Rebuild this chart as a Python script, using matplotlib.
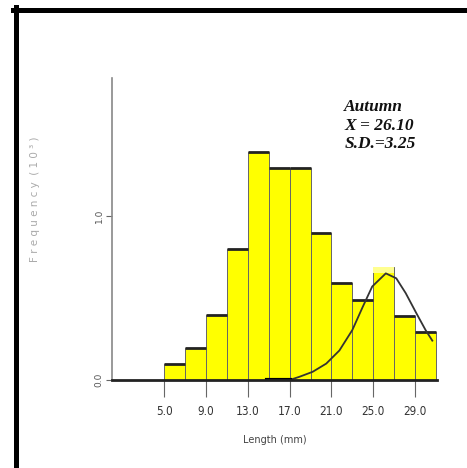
import matplotlib.pyplot as plt
import matplotlib.lines as mlines

# histogram data (length classes, frequency in 10^3)
bin_left = [5, 7, 9, 11, 13, 15, 17, 19, 21, 23, 25, 27, 29]
freq = [0.096, 0.193, 0.396, 0.797, 1.392, 1.29, 1.29, 0.894, 0.593, 0.488, 0.691, 0.39, 0.295]
bin_w = 2

# fitted curve
curve_x = [17.0, 17.95, 19.2, 20.5, 21.76, 23.0, 24.0, 24.9, 26.2, 27.2, 28.1, 29.1, 30.0, 30.65]
curve_y = [0.0, 0.02, 0.05, 0.10, 0.18, 0.305, 0.447, 0.57, 0.65, 0.62, 0.53, 0.41, 0.305, 0.24]
flat_x = [14.8, 17.0]
flat_y = [0.0, 0.0]

xticks = [5, 9, 13, 17, 21, 25, 29]
xticklabels = ['5.0', '9.0', '13.0', '17.0', '21.0', '25.0', '29.0']
yticks = [0, 1]
yticklabels = ['0.0', '1.0']

fig = plt.figure(figsize=(4.67, 4.68), dpi=100)
ax = fig.add_axes([0.2398, 0.188, 0.696, 0.645])

ax.bar(bin_left, freq, width=bin_w, align='edge', color='#ffff00',
       edgecolor='#666666', linewidth=0.7, zorder=2)
# thick black tops
for i, (l, h) in enumerate(zip(bin_left, freq)):
    if i == 10:
        ax.bar(l, 0.04, bottom=h - 0.04, width=bin_w, align='edge',
               color='#ffff90', linewidth=0, zorder=3)
        continue
    ax.hlines(h, l, l + bin_w, colors='#222222', linewidth=2, zorder=3)

ax.plot(curve_x, curve_y, color='#333333', linewidth=1.3, zorder=4)
ax.plot(flat_x, flat_y, color='black', linewidth=3, zorder=4)

ax.set_xlim(0, 31.1)
ax.set_ylim(0, 1.84)

for s in ['top', 'right']:
    ax.spines[s].set_visible(False)
ax.spines['left'].set_color('#888888')
ax.spines['left'].set_linewidth(1.2)
ax.spines['bottom'].set_color('#222222')
ax.spines['bottom'].set_linewidth(2)
ax.spines['bottom'].set_zorder(5)

ax.set_xticks(xticks)
ax.set_xticklabels(xticklabels, fontsize=8.5, color='#333333', fontstretch='condensed')
ax.set_yticks(yticks)
ax.set_yticklabels(yticklabels, fontsize=6.5, color='#555555', rotation=90, va='center')
ax.tick_params(axis='x', length=12, width=0.8, color='#666666', pad=6)
ax.tick_params(axis='y', length=4, width=0.8, color='#666666', pad=2)

ax.set_xlabel('Length (mm)', fontsize=7, color='#444444', labelpad=12)
ax.set_ylabel('F r e q u e n c y  ( 1 0 ³ )', fontsize=7.5, color='#aaaaaa')
ax.yaxis.set_label_coords(-0.22, 0.6)

ax.text(0.715, 0.93, 'Autumn\nX = 26.10\nS.D.=3.25', transform=ax.transAxes,
        fontsize=12.5, fontfamily='Liberation Serif', fontweight='bold',
        fontstyle='italic', va='top', ha='left', linespacing=1.2, color='#111111')

# black frame on top and left of the image
fig.add_artist(mlines.Line2D([13 / 467, 1], [1 - 9.5 / 468, 1 - 9.5 / 468],
                             color='black', linewidth=3.6, transform=fig.transFigure))
fig.add_artist(mlines.Line2D([15.5 / 467, 15.5 / 467], [0, 1 - 7 / 468],
                             color='black', linewidth=3.6, transform=fig.transFigure))

fig.savefig('out.png', dpi=100)
